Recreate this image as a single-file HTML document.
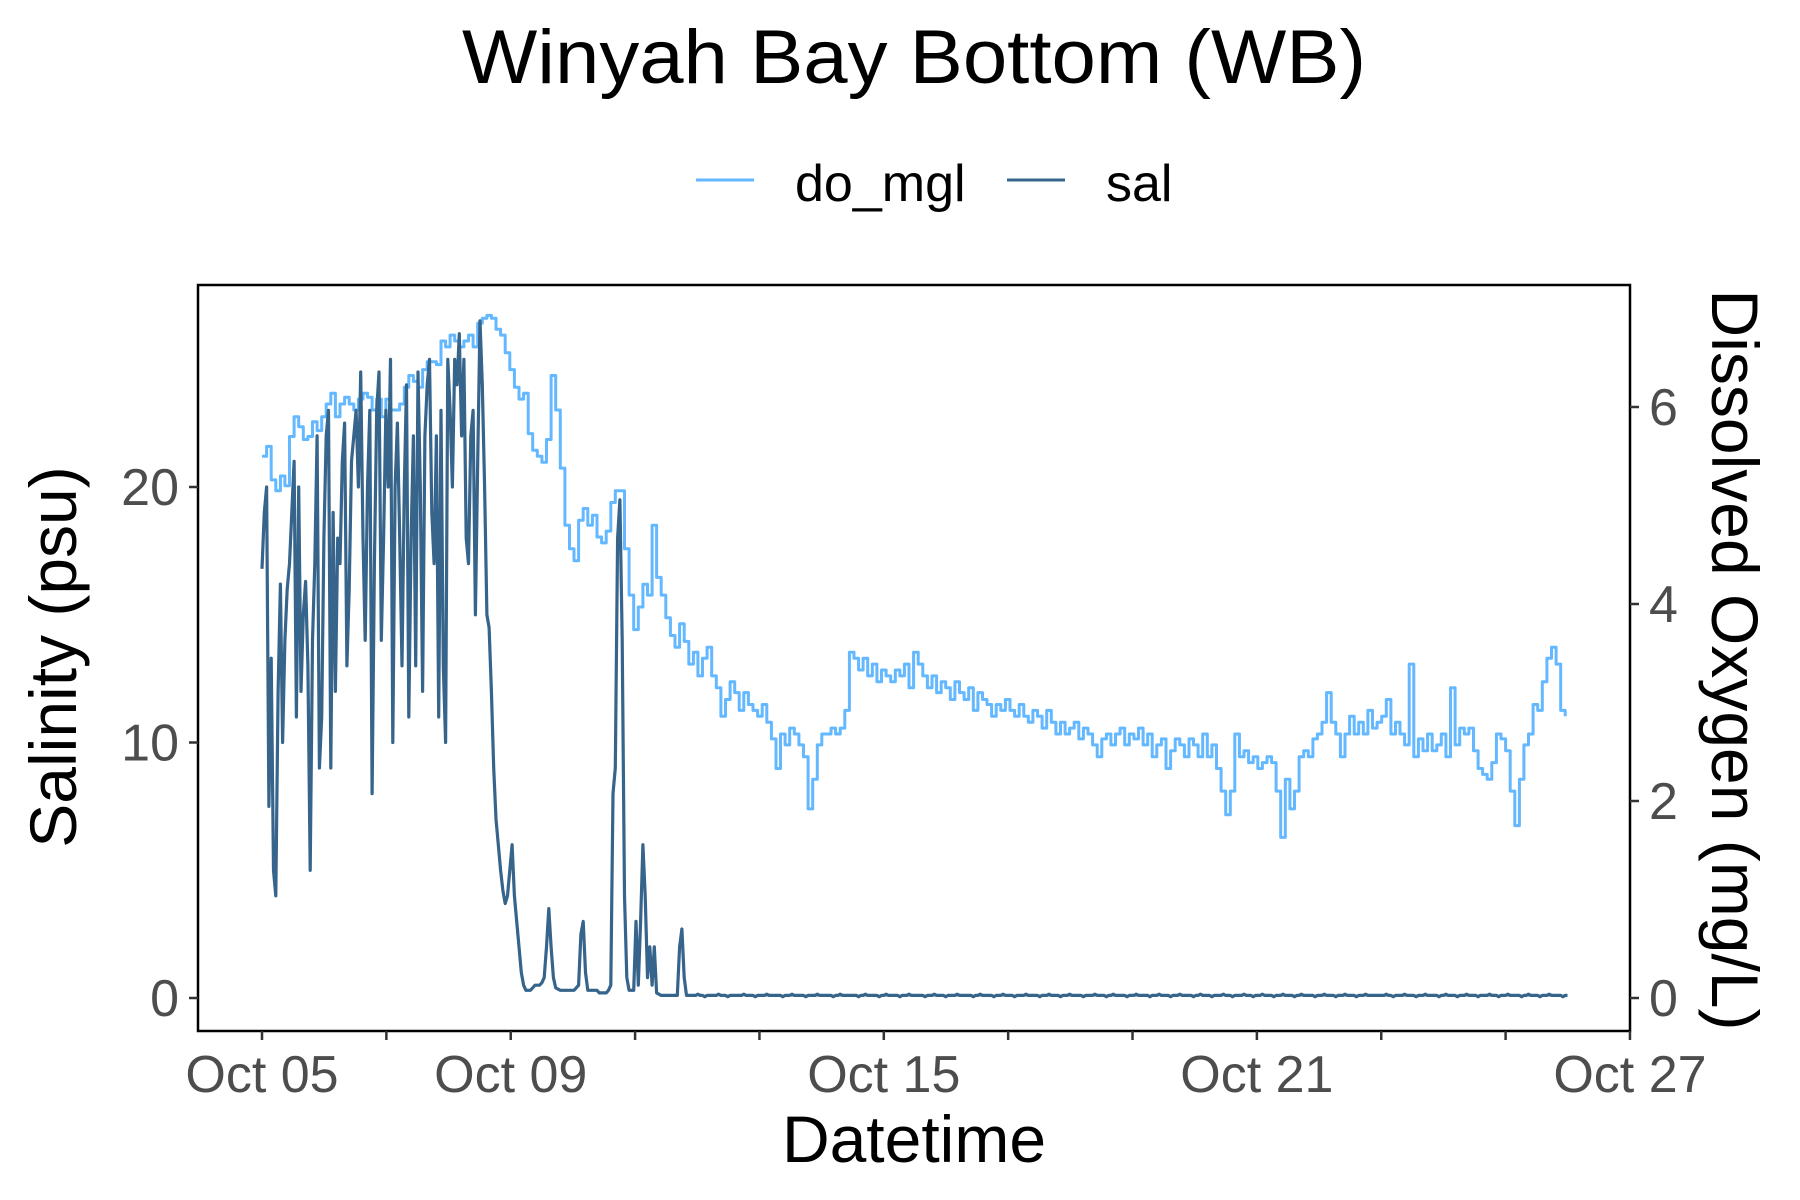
<!DOCTYPE html>
<html>
<head>
<meta charset="utf-8">
<style>
html,body{margin:0;padding:0;background:#fff;}
svg{display:block;font-family:"Liberation Sans",Arial,sans-serif;}
</style>
</head>
<body>
<svg id="chart" width="1800" height="1200" viewBox="0 0 1800 1200">
  <rect x="0" y="0" width="1800" height="1200" fill="#fff"/>
  <text x="914" y="83" font-size="76" text-anchor="middle" textLength="904" lengthAdjust="spacingAndGlyphs" fill="#000">Winyah Bay Bottom (WB)</text>
  <g>
    <g>
      <line x1="696" y1="180" x2="754" y2="180" stroke="#63B8FF" stroke-width="3"/>
      <text x="795" y="201" font-size="52" fill="#000">do_mgl</text>
    </g>
    <g>
      <line x1="1007" y1="180" x2="1065" y2="180" stroke="#36648B" stroke-width="3"/>
      <text x="1106" y="201" font-size="52" fill="#000">sal</text>
    </g>
  </g>
  <g id="series"></g>
  <rect x="198" y="285" width="1432" height="746" fill="none" stroke="#000" stroke-width="2.5"/>
  <g id="xaxis"></g>
  <g id="yleft"></g>
  <g id="yright"></g>
  <text x="914" y="1162" font-size="66" text-anchor="middle" fill="#000">Datetime</text>
  <text transform="translate(76,657) rotate(-90)" font-size="66" text-anchor="middle" fill="#000">Salinity (psu)</text>
  <text transform="translate(1712,660) rotate(90)" font-size="66" text-anchor="middle" fill="#000">Dissolved Oxygen (mg/L)</text>
</svg>
<script>
// ---- chart data ----
const xTickDays = [0,2,4,6,8,10,12,14,16,18,20,22];
const xTickLabels = ["Oct 05","","Oct 09","","","Oct 15","","","Oct 21","","","Oct 27"];
const salTicks = [0,10,20];
const doTicks = [0,2,4,6];
const salStartDay = 0;
const salStepDays = 0.0369;
const doStartDay = 0;
const doStepDays = 0.0738;
const salValues = [
16.8,19,20,7.5,13.3,5,4,12,16.2,10,14,16,17,19,21,11,20,12,15,16.3,13,5,14,17,22,9,11,18,22,23,9,19,12,18,17,21,22.5,13,16,21,22,23,20,24.5,18,14,20,23,8,17,23,24.5,14,18,23,20,25,10,20,22.5,18,13,20,24,11,18,22,13,24.5,20,12,22,24,25,19,17,22,11,23,13,10,25,23,20,25,24,26,22,25,18,17,22,23,15,21,26.5,24,20,15,14.5,12,9,7,6,5,4.2,3.7,4,5,6,4,3,2,1,0.5,0.3,0.3,0.3,0.4,0.5,0.5,0.5,0.6,0.8,2,3.5,2,0.8,0.4,
0.35,0.3,0.3,0.3,0.3,0.3,0.3,0.3,0.4,0.5,2.5,3,1,0.3,0.3,0.3,0.3,0.3,0.2,0.2,0.2,0.2,0.3,0.5,8,9,18,19.5,14,4,0.8,0.3,0.3,0.3,3,0.5,3,6,4,0.8,2,0.5,2,0.2,0.15,0.1,0.1,0.1,0.1,0.1,0.1,0.1,0.1,2,2.7,0.8,0.1,0.1,
0.1,0.1,0.1,0.15,0.1,0.1,0.05,0.1,0.1,0.1,0.1,0.1,0.15,0.1,0.1,0.1,0.05,0.1,0.1,0.1,0.1,0.1,0.1,0.15,0.1,0.1,0.1,0.1,0.05,0.1,0.1,0.1,0.1,0.15,0.1,0.1,0.1,0.1,0.1,0.1,
0.05,0.1,0.1,0.1,0.15,0.1,0.1,0.1,0.1,0.1,0.05,0.1,0.1,0.1,0.1,0.15,0.1,0.1,0.1,0.1,0.1,0.1,0.05,0.1,0.1,0.15,0.1,0.1,0.1,0.1,0.1,0.1,0.1,0.05,0.1,0.1,0.15,0.1,0.1,0.1,
0.1,0.1,0.05,0.1,0.1,0.15,0.1,0.1,0.1,0.1,0.1,0.05,0.1,0.1,0.1,0.15,0.1,0.1,0.1,0.1,0.1,0.1,0.05,0.1,0.1,0.1,0.15,0.1,0.1,0.1,0.1,0.05,0.1,0.1,0.1,0.1,0.15,0.1,0.1,0.1,
0.1,0.1,0.1,0.05,0.1,0.1,0.15,0.1,0.1,0.1,0.1,0.1,0.05,0.1,0.1,0.1,0.15,0.1,0.1,0.1,0.1,0.05,0.1,0.1,0.1,0.1,0.15,0.1,0.1,0.1,0.1,0.1,0.05,0.1,0.1,0.1,0.15,0.1,0.1,0.1,
0.1,0.05,0.1,0.1,0.1,0.15,0.1,0.1,0.1,0.1,0.1,0.05,0.1,0.1,0.1,0.1,0.15,0.1,0.1,0.1,0.1,0.05,0.1,0.1,0.15,0.1,0.1,0.1,0.1,0.1,0.05,0.1,0.1,0.1,0.15,0.1,0.1,0.1,0.1,0.1,
0.05,0.1,0.1,0.1,0.15,0.1,0.1,0.1,0.1,0.05,0.1,0.1,0.1,0.15,0.1,0.1,0.1,0.1,0.1,0.05,0.1,0.1,0.15,0.1,0.1,0.1,0.1,0.05,0.1,0.1,0.1,0.1,0.15,0.1,0.1,0.1,0.05,0.1,0.1,0.1,
0.1,0.15,0.1,0.1,0.1,0.05,0.1,0.1,0.1,0.15,0.1,0.1,0.1,0.1,0.05,0.1,0.1,0.1,0.15,0.1,0.1,0.1,0.1,0.05,0.1,0.1,0.15,0.1,0.1,0.1,0.1,0.1,0.05,0.1,0.1,0.1,0.15,0.1,0.1,0.1,
0.1,0.05,0.1,0.1,0.1,0.15,0.1,0.1,0.1,0.1,0.05,0.1,0.1,0.1,0.15,0.1,0.1,0.1,0.1,0.1,0.1,
0.1,0.1,0.15,0.1,0.1,0.05,0.1,0.1,0.1,0.1,0.15,0.1,0.1,0.1,0.1,0.05,0.1,0.1,0.1,0.15,0.1,0.1,0.1,0.1,0.1,0.05,0.1,0.1,0.15,0.1,
0.1,0.1,0.1,0.05,0.1,0.1,0.1,0.15,0.1,0.1,0.1,0.1,0.05,0.1,0.1,0.1,0.1,0.15,0.1,0.1,0.1,0.05,0.1,0.1,0.1,0.15,0.1,0.1,0.1,0.1,
0.1,0.05,0.1,0.1,0.15,0.1,0.1,0.1,0.1,0.05,0.1,0.1,0.1,0.15,0.1,0.1,0.1,0.1,0.1,0.05,0.1,0.1
];
const doValues = [
5.5,5.6,5.26,5.15,5.3,5.2,5.7,5.9,5.8,5.67,5.7,5.85,5.76,5.9,6.03,6.14,5.9,6.03,6.1,6.03,5.97,6.08,6.14,6.1,5.97,6.08,5.9,6.08,5.97,5.97,6.03,6.2,6.32,6.26,6.2,6.38,6.46,6.46,6.43,6.67,6.61,6.73,6.67,6.61,6.67,6.73,6.61,6.85,6.9,6.93,6.9,6.79,6.73,6.55,6.38,6.2,6.08,6.14,5.73,5.56,5.5,5.44,5.67,6.32,5.97,5.38,4.8,4.56,4.44,4.85,4.97,4.8,4.9,4.68,4.62,4.74,5.03,5.15,5.15,4.56,4.09,3.74,3.97,4.2,4.09,4.8,4.27,4.09,3.86,3.68,3.56,3.8,3.62,3.39,3.51,3.27,3.45,3.56,3.27,3.15,2.86,3.03,3.21,3.1,2.92,3.1,2.98,2.92,2.86,2.98,2.8,2.63,2.33,2.68,2.57,2.74,2.68,2.57,2.45,1.92,2.22,2.57,2.68,2.68,2.74,2.68,2.74,2.92,3.51,3.45,3.33,3.45,3.27,3.39,3.21,3.33,3.27,3.21,3.33,3.27,3.39,3.15,3.51,3.39,3.27,3.15,3.27,3.1,3.21,3.15,3.03,3.21,3.1,3.03,3.15,2.92,3.1,3.03,2.98,2.86,2.98,2.92,3.03,2.92,2.86,2.98,2.86,2.8,2.92,2.86,2.74,2.92,2.8,2.68,2.8,2.68,2.74,2.8,2.63,2.74,2.68,2.57,2.45,2.63,2.68,2.57,2.68,2.74,2.57,2.68,2.63,2.74,2.57,2.68,2.45,2.57,2.63,2.33,2.51,2.63,2.57,2.45,2.63,2.57,2.45,2.68,2.45,2.57,2.33,2.1,1.86,2.1,2.68,2.45,2.51,2.39,2.45,2.33,2.39,2.45,2.39,2.1,1.63,2.22,1.92,2.1,2.45,2.51,2.45,2.63,2.68,2.8,3.1,2.8,2.68,2.45,2.68,2.86,2.68,2.8,2.68,2.92,2.74,2.8,2.86,3.03,2.68,2.8,2.68,2.57,3.39,2.45,2.63,2.51,2.68,2.51,2.57,2.68,2.45,3.15,2.57,2.74,2.68,2.74,2.51,2.33,2.27,2.22,2.39,2.68,2.63,2.51,2.1,1.75,2.22,2.57,2.68,2.98,2.92,3.21,3.45,3.56,3.39,2.92,2.86
];

// ---- scales ----
const PX0 = 262, PXPD = 62.18;
const xScale = d => PX0 + d * PXPD;
const Y0 = 998;
const salScale = v => Y0 - v * 25.55;
const doScale = v => Y0 - v * 98.5;
const NS = "http://www.w3.org/2000/svg";

function mk(tag, attrs, parent) {
  const el = document.createElementNS(NS, tag);
  for (const k in attrs) el.setAttribute(k, attrs[k]);
  parent.appendChild(el);
  return el;
}

const series = document.getElementById('series');
function buildPath(vals, start, step, yS, stepped) {
  let d = "";
  let py = 0;
  for (let i = 0; i < vals.length; i++) {
    const x = xScale(start + i * step), y = yS(vals[i]);
    if (i === 0) d += "M" + x.toFixed(1) + "," + y.toFixed(1);
    else if (stepped) d += "L" + x.toFixed(1) + "," + py.toFixed(1) + "L" + x.toFixed(1) + "," + y.toFixed(1);
    else d += "L" + x.toFixed(1) + "," + y.toFixed(1);
    py = y;
  }
  return d;
}
const doPath = mk('path', {d: buildPath(doValues, doStartDay, doStepDays, doScale, true), fill: 'none', stroke: '#63B8FF', 'stroke-width': 3, 'stroke-linejoin': 'round'}, series);


const salPath = mk('path', {d: buildPath(salValues, salStartDay, salStepDays, salScale, false), fill: 'none', stroke: '#36648B', 'stroke-width': 3.2, 'stroke-linejoin': 'round'}, series);



// x axis
const xa = document.getElementById('xaxis');
xTickDays.forEach((d, i) => {
  const x = xScale(d);
  const t = mk('line', {x1: x, x2: x, y1: 1031, y2: 1040, stroke: '#333', 'stroke-width': 2.5}, xa);
  
  
  if (xTickLabels[i]) {
    const l = mk('text', {x: x, y: 1092, 'font-size': 52, 'text-anchor': 'middle', fill: '#4d4d4d'}, xa);
    l.textContent = xTickLabels[i];
    
    
  }
});
// left y axis
const yl = document.getElementById('yleft');
salTicks.forEach(v => {
  const y = salScale(v);
  const t = mk('line', {x1: 189, x2: 198, y1: y, y2: y, stroke: '#333', 'stroke-width': 2.5}, yl);
  
  
  const l = mk('text', {x: 179, y: y + 18, 'font-size': 52, 'text-anchor': 'end', fill: '#4d4d4d'}, yl);
  l.textContent = v;
  
  
});
// right y axis
const yr = document.getElementById('yright');
doTicks.forEach(v => {
  const y = doScale(v);
  const t = mk('line', {x1: 1630, x2: 1639, y1: y, y2: y, stroke: '#333', 'stroke-width': 2.5}, yr);
  
  
  const l = mk('text', {x: 1649, y: y + 18, 'font-size': 52, 'text-anchor': 'start', fill: '#4d4d4d'}, yr);
  l.textContent = v;
  
  
});
</script>
</body>
</html>
